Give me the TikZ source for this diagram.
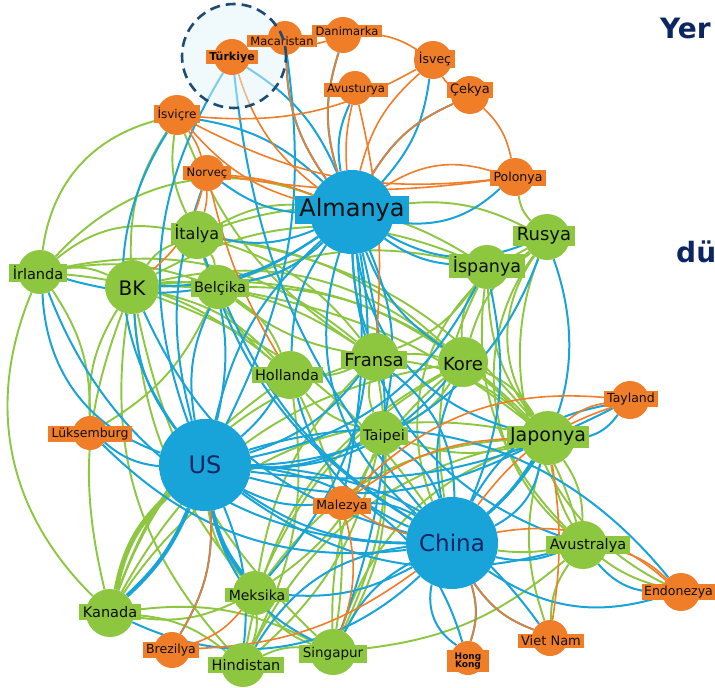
\documentclass[tikz,border=0pt]{standalone}
\usepackage{fontspec}
\setmainfont{DejaVu Sans}
\usetikzlibrary{backgrounds}
\newcommand{\myfs}[1]{\fontsize{#1}{#1}\selectfont}
\definecolor{cb}{RGB}{24,164,216}
\definecolor{cg}{RGB}{141,198,63}
\definecolor{co}{RGB}{240,125,40}
\definecolor{txt}{RGB}{15,15,15}
\definecolor{navy}{RGB}{12,38,100}
\definecolor{ring}{RGB}{30,75,115}
\tikzset{
  dot/.style={circle, fill=#1, draw=none, inner sep=0pt},
  lab/.style={fill=#1, text=txt, inner xsep=3.5pt, inner ysep=2pt},
  eb/.style={draw=cb, line width=2pt},
  eg/.style={draw=cg, line width=1.9pt},
  eo/.style={draw=co, line width=1.6pt},
}
\begin{document}
\begin{tikzpicture}[x=1pt,y=-1pt]
\useasboundingbox (0,0) rectangle (715,688);
% ---- node circles ----
\node[dot=co, minimum size=36pt] (tr)  at (232,57) {};
\node[dot=co, minimum size=34pt] (mac) at (285,38) {};
\node[dot=co, minimum size=36pt] (dan) at (343,35) {};
\node[dot=co, minimum size=38pt] (isv) at (433,60) {};
\node[dot=co, minimum size=34pt] (avu) at (355,88) {};
\node[dot=co, minimum size=38pt] (cek) at (470,95) {};
\node[dot=co, minimum size=40pt] (isc) at (177,115) {};
\node[dot=co, minimum size=36pt] (nor) at (207,173) {};
\node[dot=co, minimum size=38pt] (pol) at (515,177) {};
\node[dot=cb, minimum size=84pt] (alm) at (352,212) {};
\node[dot=cg, minimum size=48pt] (ita) at (197,235) {};
\node[dot=cg, minimum size=46pt] (rus) at (547,237) {};
\node[dot=cg, minimum size=44pt] (isp) at (487,267) {};
\node[dot=cg, minimum size=44pt] (irl) at (40,272) {};
\node[dot=cg, minimum size=54pt] (bk)  at (132,287) {};
\node[dot=cg, minimum size=44pt] (bel) at (218,287) {};
\node[dot=cg, minimum size=48pt] (hol) at (290,375) {};
\node[dot=cg, minimum size=48pt] (fra) at (375,357) {};
\node[dot=cg, minimum size=50pt] (kor) at (463,362) {};
\node[dot=co, minimum size=38pt] (tay) at (630,400) {};
\node[dot=co, minimum size=34pt] (luk) at (90,433) {};
\node[dot=cg, minimum size=44pt] (tai) at (382,433) {};
\node[dot=cg, minimum size=54pt] (jap) at (548,438) {};
\node[dot=cb, minimum size=92pt] (us)  at (205,465) {};
\node[dot=co, minimum size=34pt] (mal) at (342,503) {};
\node[dot=cb, minimum size=92pt] (chn) at (452,543) {};
\node[dot=cg, minimum size=48pt] (aus) at (583,545) {};
\node[dot=co, minimum size=38pt] (end) at (681,592) {};
\node[dot=cg, minimum size=44pt] (mek) at (255,593) {};
\node[dot=cg, minimum size=48pt] (kan) at (110,613) {};
\node[dot=co, minimum size=36pt] (vie) at (550,638) {};
\node[dot=co, minimum size=36pt] (bre) at (172,650) {};
\node[dot=cg, minimum size=44pt] (hin) at (243,665) {};
\node[dot=cg, minimum size=46pt] (sin) at (333,652) {};
\node[dot=co, minimum size=34pt] (hk)  at (468,658) {};
% ---- connectors ----
\begin{pgfonlayer}{background}
\fill[white] (0,0) rectangle (715,688);
% green
\foreach \a/\b/\c [evaluate=\c as \d using \c*1.7] in {irl/bk/10, irl/ita/15, irl/isc/20, irl/alm/20, irl/fra/15, irl/hol/10, irl/kan/-20, irl/bel/8,
  bk/ita/10, bk/bel/5, bk/fra/10, bk/hol/10, bk/isp/15, bk/kor/15, bk/jap/15, bk/chn/10, bk/isc/10, bk/kan/-10,
  bk/sin/-10, bk/luk/-10, bk/mek/-10, bk/hin/-15,
  ita/bel/8, ita/fra/10, ita/isp/15, ita/alm/10, ita/isc/10, ita/hol/-10, ita/kor/10, ita/jap/12,
  bel/fra/-8, bel/hol/10, bel/alm/-10, bel/isp/10, bel/kor/10, bel/jap/8,
  fra/hol/8, fra/isp/-10, fra/kor/5, fra/jap/10, fra/tai/-10, fra/mek/-10, fra/kan/-15, fra/sin/10,
  kor/jap/10, kor/tai/10, kor/isp/10, kor/aus/10, kor/sin/-15, kor/hin/-15, kor/mek/-10, kor/kan/-15,
  jap/aus/10, jap/tai/10, jap/end/-20, jap/sin/-15, jap/hin/-15, jap/mek/-15, jap/vie/-10, jap/kan/-20,
  aus/vie/-10, aus/sin/10, aus/chn/5,
  rus/isp/10, rus/chn/-25, rus/jap/-20, rus/pol/10, rus/kor/-10, rus/aus/-25, rus/alm/-10, rus/end/-25,
  isp/jap/-10, isp/chn/-10, isp/aus/-15,
  mek/kan/10, mek/hin/8, mek/sin/-10, mek/us/10,
  kan/hin/10, kan/sin/10, hin/sin/10,
  tai/hol/10, tai/sin/10, tai/hin/10, tai/mek/10,
  hol/hin/10, hol/kan/-10, hol/sin/10, luk/bel/-10, luk/irl/-10, isc/fra/-10}
  \draw[eg] (\a) to[bend left=\d] (\b);
\draw[eg, line width=5pt] (kan) to[bend left=18] (us);
% blue
\foreach \a/\b/\c [evaluate=\c as \d using \c*1.7] in {us/chn/-10, us/alm/10, us/hin/8, us/sin/-15, us/bre/10, us/luk/10, us/irl/20, us/bk/10,
  us/ita/-10, us/bel/10, us/hol/-5, us/fra/-10, us/kor/-15, us/jap/-12, us/tai/-8, us/mal/-10, us/aus/-15,
  us/isc/20, us/tr/15, us/mac/-10, us/nor/10, us/isp/-15, us/rus/-20, us/hk/20, us/vie/15, us/end/20, us/tay/-10,
  chn/alm/20, chn/jap/-15, chn/kor/10, chn/tai/-10, chn/aus/-10, chn/end/-15, chn/vie/-10, chn/hk/10, chn/hk/-20,
  chn/sin/-10, chn/hin/-15, chn/mek/10, chn/kan/20, chn/mal/-10, chn/tay/15, chn/fra/-15, chn/hol/15, chn/bel/10,
  chn/bk/15, chn/ita/12, chn/isp/-10, chn/rus/-20, chn/tr/10, chn/irl/20, chn/luk/15,
  alm/tr/-10, alm/dan/10, alm/isv/-10, alm/cek/10, alm/isc/-10, alm/nor/10, alm/pol/-15, alm/ita/10, alm/rus/-15,
  alm/isp/-10, alm/irl/15, alm/bk/10, alm/bel/10, alm/hol/-10, alm/fra/-5, alm/kor/-10, alm/jap/-20, alm/tai/10,
  alm/aus/-20, alm/mac/10, alm/avu/10, alm/sin/10, alm/mek/15, alm/mal/5, tay/jap/15, end/aus/15}
  \draw[eb] (\a) to[bend left=\d] (\b);
\draw[eb, line width=4pt] (us) to[bend left=12] (kan);
\draw[eb, line width=4pt] (us) to[bend left=-12] (mek);
\draw[eb, line width=3pt] (chn) to[bend left=-8] (jap);
% orange
\foreach \a/\b/\c [evaluate=\c as \d using \c*1.7] in {tr/alm/-10, mac/alm/-10, mac/dan/-10, dan/isv/10, dan/alm/-10, isv/alm/-10, isv/cek/-10,
  avu/alm/-5, cek/alm/-10, cek/pol/10, isc/alm/-10, isc/nor/5, isc/pol/-10, isc/isv/-10, nor/alm/5, nor/ita/5,
  nor/bk/10, nor/hol/-5, nor/pol/-5, pol/alm/-15, tay/jap/-10, tay/mal/-15, tay/chn/-10, mal/jap/10, mal/chn/-5,
  mal/sin/10, end/chn/-15, end/aus/-10, vie/chn/10, vie/jap/-5, bre/us/-10, bre/mek/-10, bre/chn/-10,
  hk/chn/-10, avu/fra/5}
  \draw[eo] (\a) to[bend left=\d] (\b);
\fill[cb!12, fill opacity=0.5] (234,56) circle[radius=52];
\end{pgfonlayer}
% ---- labels ----
\node[lab=co, font=\myfs{11}\bfseries] (tr-l) at (232,57) {Türkiye};
\node[lab=co, font=\myfs{11.5}] (mac-l) at (282,41) {Macaristan};
\node[lab=co, font=\myfs{11.5}] (dan-l) at (347,31) {Danimarka};
\node[lab=co, font=\myfs{12.5}] (isv-l) at (435,59) {İsveç};
\node[lab=co, font=\myfs{11.5}] (avu-l) at (356,90) {Avusturya};
\node[lab=co, font=\myfs{13}] (cek-l) at (470,90) {Çekya};
\node[lab=co, font=\myfs{12}] (isc-l) at (177,114) {İsviçre};
\node[lab=co, font=\myfs{11.5}] (nor-l) at (207,173) {Norveç};
\node[lab=co, font=\myfs{12.5}] (pol-l) at (518,178) {Polonya};
\node[lab=cb, font=\myfs{24}, inner xsep=4pt] (alm-l) at (352,210) {Almanya};
\node[lab=cg, font=\myfs{16}] (ita-l) at (197,234) {İtalya};
\node[lab=cg, font=\myfs{18}] (rus-l) at (544,236) {Rusya};
\node[lab=cg, font=\myfs{17.5}] (isp-l) at (487,266) {İspanya};
\node[lab=cg, font=\myfs{14.5}] (irl-l) at (38,273) {İrlanda};
\node[lab=cg, font=\myfs{20}, inner xsep=9pt] (bk-l) at (132,288) {BK};
\node[lab=cg, font=\myfs{14.5}] (bel-l) at (220,288) {Belçika};
\node[lab=cg, font=\myfs{14.5}] (hol-l) at (287,375) {Hollanda};
\node[lab=cg, font=\myfs{18}] (fra-l) at (374,360) {Fransa};
\node[lab=cg, font=\myfs{18}] (kor-l) at (463,364) {Kore};
\node[lab=co, font=\myfs{12.5}] (tay-l) at (631,399) {Tayland};
\node[lab=co, font=\myfs{12.5}] (luk-l) at (90,434) {Lüksemburg};
\node[lab=cg, font=\myfs{14.5}] (tai-l) at (384,436) {Taipei};
\node[lab=cg, font=\myfs{19}] (jap-l) at (548,437) {Japonya};
\node[text=navy, font=\myfs{24}] (us-l) at (205,465) {US};
\node[lab=co, font=\myfs{12.5}] (mal-l) at (342,506) {Malezya};
\node[text=navy, font=\myfs{23}] (chn-l) at (452,543) {China};
\node[lab=cg, font=\myfs{14.5}] (aus-l) at (588,545) {Avustralya};
\node[lab=co, font=\myfs{12.5}, anchor=east, inner xsep=2pt] (end-l) at (715,592) {Endonezya};
\node[lab=cg, font=\myfs{14}] (mek-l) at (257,595) {Meksika};
\node[lab=cg, font=\myfs{14.5}] (kan-l) at (110,612) {Kanada};
\node[lab=co, font=\myfs{13}] (vie-l) at (551,641) {Viet Nam};
\node[lab=co, font=\myfs{12.5}] (bre-l) at (171,650) {Brezilya};
\node[lab=cg, font=\myfs{14.5}] (hin-l) at (246,665) {Hindistan};
\node[lab=cg, font=\myfs{13.5}] (sin-l) at (333,654) {Singapur};
\node[lab=co, font=\myfs{9}\bfseries, align=center, inner xsep=8pt, inner ysep=3pt] (hk-l) at (468,661) {Hong\\[-1pt]Kong};
% ---- focus ring ----
\node[circle, draw=ring, line width=2.6pt, dash pattern=on 10pt off 6pt, minimum size=104pt, inner sep=0pt] (focus) at (234,56) {};
% ---- clipped heading words ----
\node[anchor=base west, inner sep=0pt, text=navy, font=\myfs{28}\bfseries] (h1) at (660,38) {Yer};
\node[anchor=base west, inner sep=0pt, text=navy, font=\myfs{28}\bfseries] (h2) at (676,262) {dü};
\end{tikzpicture}
\end{document}
